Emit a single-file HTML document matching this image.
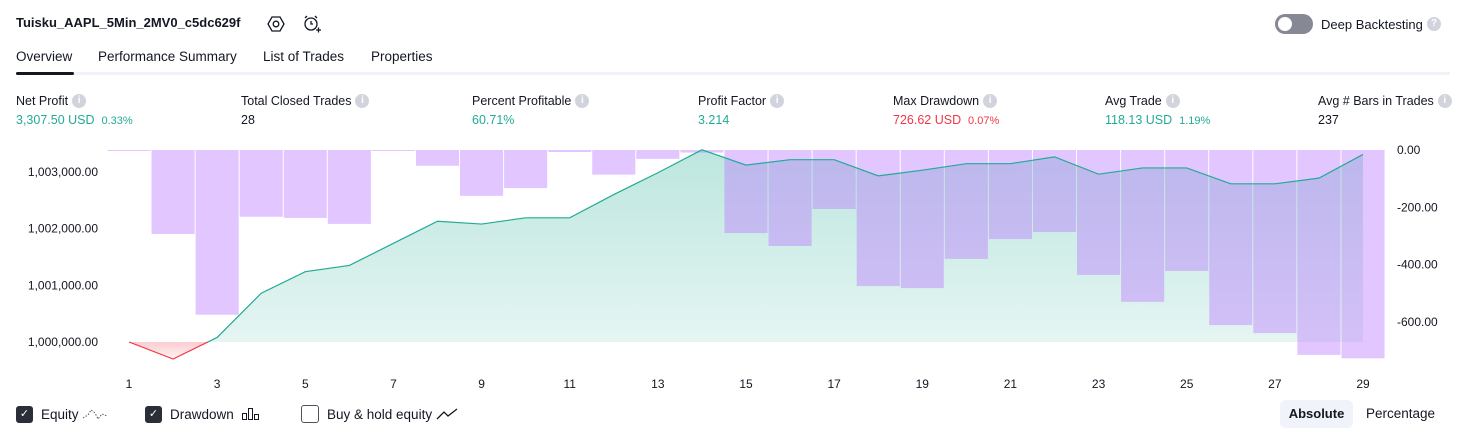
<!DOCTYPE html>
<html><head><meta charset="utf-8">
<style>
body{margin:0;width:1466px;height:438px;background:#fff;font-family:"Liberation Sans",sans-serif;color:#131722;position:relative;overflow:hidden}
.a{position:absolute;white-space:nowrap}
.info{display:inline-block;width:14px;height:14px;border-radius:50%;background:#d1d4dc;color:#fff;font-size:10px;font-weight:bold;text-align:center;line-height:14px;margin-left:4px}
.fx{display:flex;align-items:center}
.lbl{font-size:12.5px;top:93px;height:16px}
.val{font-size:12.5px;top:113px}
.g{color:#22ab94}.r{color:#f23645}
.small{font-size:11px}
.tab{font-size:13.5px;top:49px}
.cb{display:inline-block;width:17px;height:17px;border-radius:3px;background:#2a2e39;color:#fff;font-size:11px;text-align:center;line-height:17px;margin-right:8px}
.cbo{display:inline-block;width:16px;height:16px;border-radius:3px;border:1px solid #50535e;margin-right:8px}
.leg{font-size:13.5px;top:404px;height:20px}
</style></head><body>
<div class="a" style="left:16px;top:15px;font-size:13px;font-weight:bold">Tuisku_AAPL_5Min_2MV0_c5dc629f</div>
<svg class="a" style="left:267px;top:15px" width="18" height="18" viewBox="0 0 18 18"><polygon points="5,2 13,2 17,9 13,16 5,16 1,9" fill="none" stroke="#131722" stroke-width="1.3"/><circle cx="9" cy="9" r="2.8" fill="none" stroke="#131722" stroke-width="1.3"/></svg>
<svg class="a" style="left:302px;top:14px" width="20" height="20" viewBox="0 0 20 20"><circle cx="9" cy="10" r="6" fill="none" stroke="#131722" stroke-width="1.3"/><path d="M9 7v3h2M3 4l2-2M15 4l-2-2M14 16h5M16.5 13.5v5" fill="none" stroke="#131722" stroke-width="1.3"/></svg>
<div class="a" style="left:1275px;top:14px;width:38px;height:20px;border-radius:10px;background:#868993"><div style="position:absolute;left:3px;top:3px;width:14px;height:14px;border-radius:50%;background:#fff"></div></div>
<div class="a fx" style="left:1321px;top:16px;height:16px;font-size:13px">Deep Backtesting<span class="info" style="margin-left:4px">?</span></div>

<div class="a tab" style="left:16px">Overview</div>
<div class="a tab" style="left:98px">Performance Summary</div>
<div class="a tab" style="left:263px">List of Trades</div>
<div class="a tab" style="left:371px">Properties</div>
<div class="a" style="left:16px;top:72px;width:1434px;height:3px;background:#f0f3fa"></div>
<div class="a" style="left:16px;top:72px;width:58px;height:3px;border-radius:2px;background:#131722"></div>

<div class="a lbl fx" style="left:16px">Net Profit<span class="info">i</span></div>
<div class="a val g" style="left:16px">3,307.50 USD&nbsp; <span class="small">0.33%</span></div>
<div class="a lbl fx" style="left:241px">Total Closed Trades<span class="info">i</span></div>
<div class="a val" style="left:241px">28</div>
<div class="a lbl fx" style="left:472px">Percent Profitable<span class="info">i</span></div>
<div class="a val g" style="left:472px">60.71%</div>
<div class="a lbl fx" style="left:698px">Profit Factor<span class="info">i</span></div>
<div class="a val g" style="left:698px">3.214</div>
<div class="a lbl fx" style="left:893px">Max Drawdown<span class="info">i</span></div>
<div class="a val r" style="left:893px">726.62 USD&nbsp; <span class="small">0.07%</span></div>
<div class="a lbl fx" style="left:1105px">Avg Trade<span class="info">i</span></div>
<div class="a val g" style="left:1105px">118.13 USD&nbsp; <span class="small">1.19%</span></div>
<div class="a lbl fx" style="left:1318px">Avg # Bars in Trades<span class="info">i</span></div>
<div class="a val" style="left:1318px">237</div>

<svg id="chart" class="a" style="left:0;top:0" width="1466" height="400">
<defs><linearGradient id="gf" x1="0" y1="0" x2="0" y2="1"><stop offset="0" stop-color="#22ab94" stop-opacity="0.3"/><stop offset="1" stop-color="#22ab94" stop-opacity="0.1"/></linearGradient>
<linearGradient id="rf" gradientUnits="userSpaceOnUse" x1="0" y1="342" x2="0" y2="360"><stop offset="0" stop-color="#f23645" stop-opacity="0.25"/><stop offset="1" stop-color="#f23645" stop-opacity="0.05"/></linearGradient>
<clipPath id="above"><rect x="0" y="0" width="1466" height="342"/></clipPath>
<clipPath id="below"><rect x="0" y="342" width="1466" height="60"/></clipPath></defs>
</svg>

<div class="a leg fx" style="left:16px"><span class="cb">✓</span>Equity&nbsp;<svg width="26" height="14"><polyline points="1,11 6,8 9,3 13,6 16,12 20,7 25,9" fill="none" stroke="#50535e" stroke-width="1" stroke-dasharray="1.5,1.5"/></svg></div>
<div class="a leg fx" style="left:145px"><span class="cb">✓</span>Drawdown&nbsp;&nbsp;<svg width="20" height="14"><rect x="1.5" y="6.5" width="4" height="6" fill="none" stroke="#131722"/><rect x="7.5" y="1.5" width="4" height="11" fill="none" stroke="#131722"/><rect x="13.5" y="7.5" width="4" height="5" fill="none" stroke="#131722"/></svg></div>
<div class="a leg fx" style="left:301px"><span class="cbo"></span>Buy &amp; hold equity&nbsp;<svg width="22" height="12"><polyline points="1,11 8,4 12,8 21,1" fill="none" stroke="#131722" stroke-width="1.3"/></svg></div>
<div class="a" style="left:1280px;top:400px;width:73px;height:28px;border-radius:6px;background:#f0f3fa;font-size:13px;font-weight:bold;text-align:center;line-height:28px">Absolute</div>
<div class="a" style="left:1366px;top:406px;font-size:13.5px">Percentage</div>

<script>
const tradeNums=[1,2,3,4,5,6,7,8,9,10,11,12,13,14,15,16,17,18,19,20,21,22,23,24,25,26,27,28,29];
const equity=[1000000,999700,1000080,1000860,1001240,1001350,1001740,1002130,1002080,1002190,1002190,1002600,1002985,1003390,1003120,1003215,1003215,1002930,1003030,1003145,1003145,1003265,1002960,1003070,1003070,1002790,1002790,1002890,1003307.5];
const drawdown=[-3,-293,-575,-233,-237,-258,-2,-55,-160,-133,-7,-86,-31,-9,-290,-335,-206,-475,-482,-380,-311,-286,-436,-530,-422,-611,-639,-715,-727];
const leftTicks=[1000000,1001000,1002000,1003000];
const rightTicks=[0,-200,-400,-600];
const xTicks=[1,3,5,7,9,11,13,15,17,19,21,23,25,27,29];

const NS="http://www.w3.org/2000/svg";
const svg=document.getElementById('chart');
const X=n=>129+(n-1)*(1363-129)/28;
const YL=v=>342-(v-1000000)*0.0567;
const YR=v=>150-v*0.2865;
function mk(t,a){const e=document.createElementNS(NS,t);for(const k in a)e.setAttribute(k,a[k]);svg.appendChild(e);return e;}
const base=YL(1000000);
const pts=tradeNums.map((n,i)=>[X(n),YL(equity[i])]);
const poly="M"+pts[0][0]+","+base+" "+pts.map(p=>"L"+p[0]+","+p[1]).join(" ")+" L"+pts[pts.length-1][0]+","+base+"Z";
let f=mk('path',{d:poly,fill:'url(#gf)','clip-path':'url(#above)'});


f=mk('path',{d:poly,fill:'url(#rf)','clip-path':'url(#below)'});


const bw=(1363-129)/28;
drawdown.forEach((d,i)=>{
  const x=X(tradeNums[i])-bw/2+0.5;
  const b=mk('rect',{x:x,y:YR(0),width:bw-1,height:Math.max(1,YR(d)-YR(0)),fill:'rgba(186,120,255,0.42)'});
  
  
});
const lineD=pts.map((p,i)=>(i?"L":"M")+p[0]+","+p[1]).join(" ");
let l=mk('path',{d:lineD,fill:'none',stroke:'#22ab94','stroke-width':1.2,'clip-path':'url(#above)'});


l=mk('path',{d:lineD,fill:'none',stroke:'#f23645','stroke-width':1.2,'clip-path':'url(#below)'});


leftTicks.forEach(v=>{const t=mk('text',{x:98,y:YL(v)+4,'text-anchor':'end','font-size':12,fill:'#131722','font-family':'Liberation Sans'});t.textContent=v.toLocaleString('en-US')+'.00';

});
rightTicks.forEach(v=>{const t=mk('text',{x:1397,y:YR(v)+4,'font-size':12,fill:'#131722','font-family':'Liberation Sans'});t.textContent=v.toFixed(2);

});
xTicks.forEach(n=>{const t=mk('text',{x:X(n),y:388,'text-anchor':'middle','font-size':12,fill:'#131722','font-family':'Liberation Sans'});t.textContent=n;

});
</script>
</body></html>
